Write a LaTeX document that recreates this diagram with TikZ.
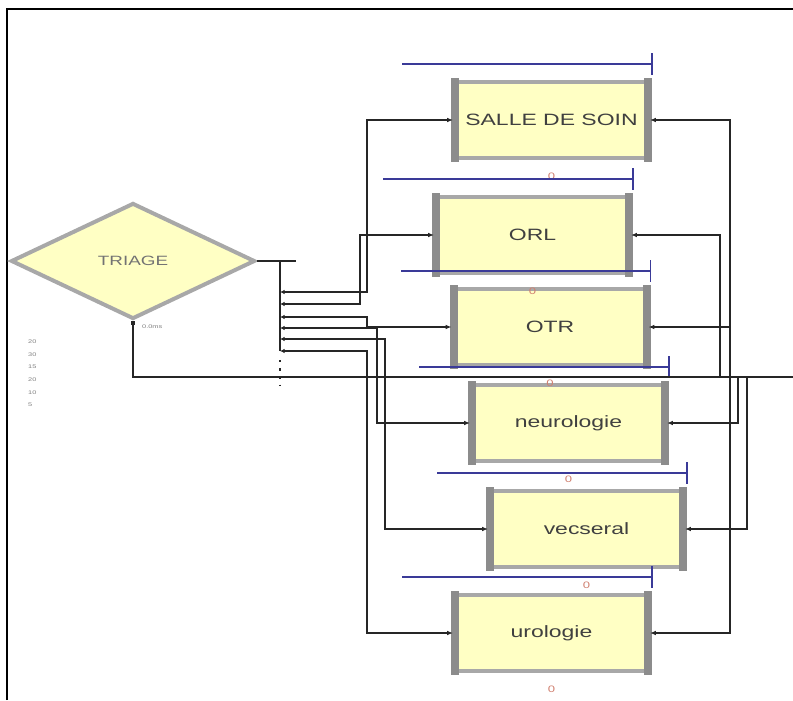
\documentclass[tikz,border=0pt]{standalone}
\usepackage{fontspec}
\setmainfont{Liberation Sans}[FakeStretch=1.4]
\usepackage{xcolor}
\usetikzlibrary{shapes.geometric,arrows.meta,calc}

\definecolor{boxfill}{HTML}{FFFFC4}
\definecolor{boxedge}{HTML}{A8A8A8}
\definecolor{boxbar}{HTML}{8C8C8C}
\definecolor{queueblue}{HTML}{3A3A98}
\definecolor{countred}{HTML}{D08070}

\tikzset{
  process/.style={draw=boxedge, line width=3.4pt, fill=boxfill, inner sep=0pt,
    minimum width=5.79cm, minimum height=2.28cm, text=black!75,
    font=\fontsize{14}{16}\selectfont},
  decide/.style={diamond, draw=boxedge, line width=3.4pt, fill=boxfill, inner sep=0pt,
    minimum width=7.32cm, minimum height=3.48cm, text=black!55,
    font=\fontsize{11.5}{13}\selectfont},
  link/.style={line width=1.2pt, black!85},
  branch/.style={link, {Latex[length=4pt,width=4pt]}-{Latex[length=5pt,width=4pt]}},
  back/.style={link, {Latex[length=5pt,width=4pt]}-},
  queue/.style={line width=1.3pt, queueblue},
  count/.style={text=countred, font=\fontsize{8}{9}\selectfont, inner sep=0pt},
  tiny/.style={text=black!50, font=\fontsize{4.5}{5}\selectfont, inner sep=0pt}
}

\begin{document}
\begin{tikzpicture}[x=0.03cm, y=-0.03cm]
  \useasboundingbox (0,0) rectangle (793,700);
  % frame
  \draw[line width=2.4pt] (7,700) -- (7,9) -- (793,9);

  % Decide module
  \node[decide] (triage) at (133,261) {TRIAGE};
  \node[tiny, anchor=west] (delay) at ($(triage.south)+(9,6)$) {0.0ms};
  \foreach \p [count=\i] in {20,30,15,20,10,5}
    \node[tiny, anchor=west] (pct\i) at (28,{342+12.6*(\i-1)}) {\p};

  % Process modules
  \node[process] (salle) at (551.5,120) {SALLE DE SOIN};
  \node[process] (orl)   at (532.5,235) {ORL};
  \node[process] (otr)   at (550,327)   {OTR};
  \node[process] (neuro) at (568.5,423) {neurologie};
  \node[process] (visc)  at (586.5,529) {vecseral};
  \node[process] (uro)   at (551.5,633) {urologie};
  \foreach \b in {salle,orl,otr,neuro,visc,uro}{
    \fill[boxbar] ($(\b.north west)+(-2,-2)$) rectangle ($(\b.south west)+(6,2)$);
    \fill[boxbar] ($(\b.north east)+(-6,-2)$) rectangle ($(\b.south east)+(2,2)$);
    \draw[queue] ($(\b.north east)+(2,-16)$) coordinate (q\b) -- ++(-250,0);
    \draw[queue] ($(q\b)+(0,-11)$) -- ($(q\b)+(0,11)$);
    \node[count] (n\b) at ($(\b.south)+(0,16)$) {0};
  }

  % Branch bus
  \coordinate (bustop) at (280,261);
  \coordinate (busend) at (280,351);
  \draw[link] (triage.east) -- ++(39,0);
  \draw[link] (bustop) -- (busend);
  \draw[link, dash pattern=on 2pt off 5pt] (280,360) coordinate (dots) -- (280,386);
  \foreach \y [count=\i] in {292,304,317,328,339,351}
    \coordinate (t\i) at (280,\y);
  \draw[branch] (t1) -- ++(87,0) |- (salle.west);
  \draw[branch] (t2) -- ++(80,0) |- (orl.west);
  \draw[branch] (t3) -- ++(87,0) |- (otr.west);
  \draw[branch] (t4) -- ++(97,0) |- (neuro.west);
  \draw[branch] (t5) -- ++(105,0) |- (visc.west);
  \draw[branch] (t6) -- ++(87,0) |- (uro.west);

  % Return line
  \coordinate (ret) at (793,377);
  \draw[link, {Square[length=3pt,width=3pt]}-] (triage.south) |- (ret);
  \coordinate (r1) at (730,377);
  \coordinate (r2) at (720,377);
  \coordinate (r3) at (738,377);
  \coordinate (r4) at (747,377);
  \draw[back] (salle.east) -| (r1);
  \draw[back] (orl.east) -| (r2);
  \draw[back] (otr.east) -- (otr.east -| r1);
  \draw[back] (neuro.east) -| (r3);
  \draw[back] (visc.east) -| (r4);
  \draw[back] (uro.east) -| (r1);
\end{tikzpicture}
\end{document}
